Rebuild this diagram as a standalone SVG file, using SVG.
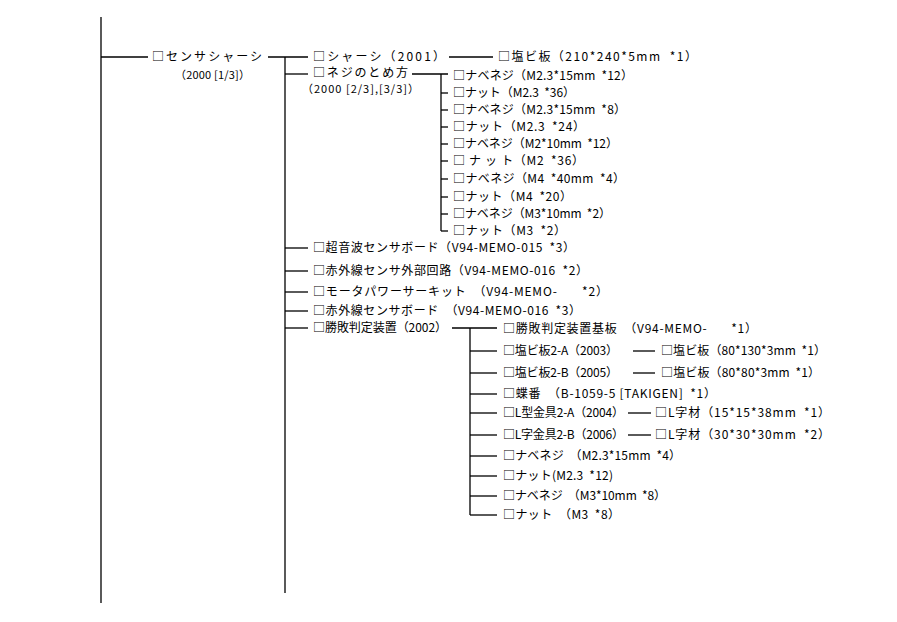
<svg xmlns="http://www.w3.org/2000/svg" width="897" height="622" viewBox="0 0 897 622" xml:space="preserve">
<style>
text{font-family:"Noto Sans CJK JP","Liberation Sans",sans-serif;font-size:12px;fill:#000;white-space:pre}
text.sub{font-size:11px}
.c line{stroke:#000;stroke-width:1.3;fill:none}
</style>
<rect width="897" height="622" fill="#fff"/>
<g class="c" id="connectors">
<line x1="101" y1="17" x2="101" y2="603"/>
<line x1="101" y1="57" x2="148" y2="57"/>
<line x1="268" y1="57" x2="308" y2="57"/>
<line x1="285" y1="57" x2="285" y2="593"/>
<line x1="449" y1="57" x2="493" y2="57"/>
<line x1="285" y1="74" x2="308" y2="74"/>
<line x1="412" y1="74" x2="448" y2="74"/>
<line x1="441" y1="74" x2="441" y2="231"/>
<line x1="441" y1="93" x2="448" y2="93"/>
<line x1="441" y1="110" x2="448" y2="110"/>
<line x1="441" y1="127" x2="448" y2="127"/>
<line x1="441" y1="144" x2="448" y2="144"/>
<line x1="441" y1="161" x2="448" y2="161"/>
<line x1="441" y1="179" x2="448" y2="179"/>
<line x1="441" y1="197" x2="448" y2="197"/>
<line x1="441" y1="214" x2="448" y2="214"/>
<line x1="441" y1="231" x2="448" y2="231"/>
<line x1="285" y1="248" x2="308" y2="248"/>
<line x1="285" y1="271" x2="308" y2="271"/>
<line x1="285" y1="292" x2="308" y2="292"/>
<line x1="285" y1="311" x2="308" y2="311"/>
<line x1="285" y1="328" x2="308" y2="328"/>
<line x1="452" y1="328" x2="497" y2="328"/>
<line x1="470" y1="328" x2="470" y2="515"/>
<line x1="470" y1="351" x2="497" y2="351"/>
<line x1="470" y1="373" x2="497" y2="373"/>
<line x1="470" y1="394" x2="497" y2="394"/>
<line x1="470" y1="413" x2="497" y2="413"/>
<line x1="470" y1="435" x2="497" y2="435"/>
<line x1="470" y1="456" x2="497" y2="456"/>
<line x1="470" y1="476" x2="497" y2="476"/>
<line x1="470" y1="496" x2="497" y2="496"/>
<line x1="470" y1="515" x2="497" y2="515"/>
<line x1="633" y1="351" x2="655" y2="351"/>
<line x1="633" y1="373" x2="655" y2="373"/>
<line x1="628" y1="413" x2="651" y2="413"/>
<line x1="628" y1="435" x2="651" y2="435"/>
</g>
<g id="n-sensor-chassis">
<text x="152" y="61" textLength="110" lengthAdjust="spacing">□センサシャーシ</text>
<text class="sub" x="175" y="79" textLength="75" lengthAdjust="spacing">（2000 [1/3]）</text>
</g>
<g id="n-chassis"><text x="313" y="61" textLength="132" lengthAdjust="spacing">□シャーシ（2001）</text></g>
<g id="n-pvc1"><text x="498" y="61" textLength="199" lengthAdjust="spacing">□塩ビ板（210*240*5mm  *1）</text></g>
<g id="n-screws">
<text x="313" y="77" textLength="95" lengthAdjust="spacing">□ネジのとめ方</text>
<text class="sub" x="302" y="93" textLength="117" lengthAdjust="spacing">（2000 [2/3],[3/3]）</text>
</g>
<g id="n-s1"><text x="453" y="80" textLength="180" lengthAdjust="spacing">□ナベネジ（M2.3*15mm  *12）</text></g>
<g id="n-s2"><text x="453" y="97" textLength="122" lengthAdjust="spacing">□ナット（M2.3  *36）</text></g>
<g id="n-s3"><text x="453" y="114" textLength="173" lengthAdjust="spacing">□ナベネジ（M2.3*15mm  *8）</text></g>
<g id="n-s4"><text x="453" y="131" textLength="132" lengthAdjust="spacing">□ナット（M2.3  *24）</text></g>
<g id="n-s5"><text x="453" y="148" textLength="165" lengthAdjust="spacing">□ナベネジ（M2*10mm  *12）</text></g>
<g id="n-s6"><text x="453" y="165" textLength="131" lengthAdjust="spacing">□ ナ ッ ト（M2  *36）</text></g>
<g id="n-s7"><text x="453" y="183" textLength="172" lengthAdjust="spacing">□ナベネジ（M4  *40mm  *4）</text></g>
<g id="n-s8"><text x="453" y="201" textLength="119" lengthAdjust="spacing">□ナット（M4  *20）</text></g>
<g id="n-s9"><text x="453" y="218" textLength="158" lengthAdjust="spacing">□ナベネジ（M3*10mm  *2）</text></g>
<g id="n-s10"><text x="453" y="235" textLength="113" lengthAdjust="spacing">□ナット（M3  *2）</text></g>
<g id="n-ultra"><text x="313" y="252" textLength="262" lengthAdjust="spacing">□超音波センサボード（V94-MEMO-015  *3）</text></g>
<g id="n-ir-ext"><text x="313" y="275" textLength="275" lengthAdjust="spacing">□赤外線センサ外部回路（V94-MEMO-016  *2）</text></g>
<g id="n-motor"><text x="313" y="296" textLength="295" lengthAdjust="spacing">□モータパワーサーキット  （V94-MEMO-       *2）</text></g>
<g id="n-ir-board"><text x="313" y="315" textLength="268" lengthAdjust="spacing">□赤外線センサボード  （V94-MEMO-016  *3）</text></g>
<g id="n-judge"><text x="313" y="332" textLength="134" lengthAdjust="spacing">□勝敗判定装置（2002）</text></g>
<g id="n-j1"><text x="503" y="333" textLength="254" lengthAdjust="spacing">□勝敗判定装置基板  （V94-MEMO-       *1）</text></g>
<g id="n-j2"><text x="503" y="355" textLength="115" lengthAdjust="spacing">□塩ビ板2-A（2003）</text></g>
<g id="n-j2a"><text x="661" y="355" textLength="165" lengthAdjust="spacing">□塩ビ板（80*130*3mm  *1）</text></g>
<g id="n-j3"><text x="503" y="377" textLength="115" lengthAdjust="spacing">□塩ビ板2-B（2005）</text></g>
<g id="n-j3a"><text x="661" y="377" textLength="159" lengthAdjust="spacing">□塩ビ板（80*80*3mm  *1）</text></g>
<g id="n-j4"><text x="503" y="398" textLength="213" lengthAdjust="spacing">□蝶番  （B-1059-5 [TAKIGEN]  *1）</text></g>
<g id="n-j5"><text x="503" y="417" textLength="121" lengthAdjust="spacing">□L型金具2-A（2004）</text></g>
<g id="n-j5a"><text x="655" y="417" textLength="175" lengthAdjust="spacing">□L字材（15*15*38mm  *1）</text></g>
<g id="n-j6"><text x="503" y="439" textLength="121" lengthAdjust="spacing">□L字金具2-B（2006）</text></g>
<g id="n-j6a"><text x="655" y="439" textLength="175" lengthAdjust="spacing">□L字材（30*30*30mm  *2）</text></g>
<g id="n-j7"><text x="503" y="460" textLength="178" lengthAdjust="spacing">□ナベネジ  （M2.3*15mm  *4）</text></g>
<g id="n-j8"><text x="503" y="480" textLength="110" lengthAdjust="spacing">□ナット(M2.3  *12)</text></g>
<g id="n-j9"><text x="503" y="500" textLength="163" lengthAdjust="spacing">□ナベネジ  （M3*10mm  *8）</text></g>
<g id="n-j10"><text x="503" y="519" textLength="117" lengthAdjust="spacing">□ナット  （M3  *8）</text></g>
</svg>
